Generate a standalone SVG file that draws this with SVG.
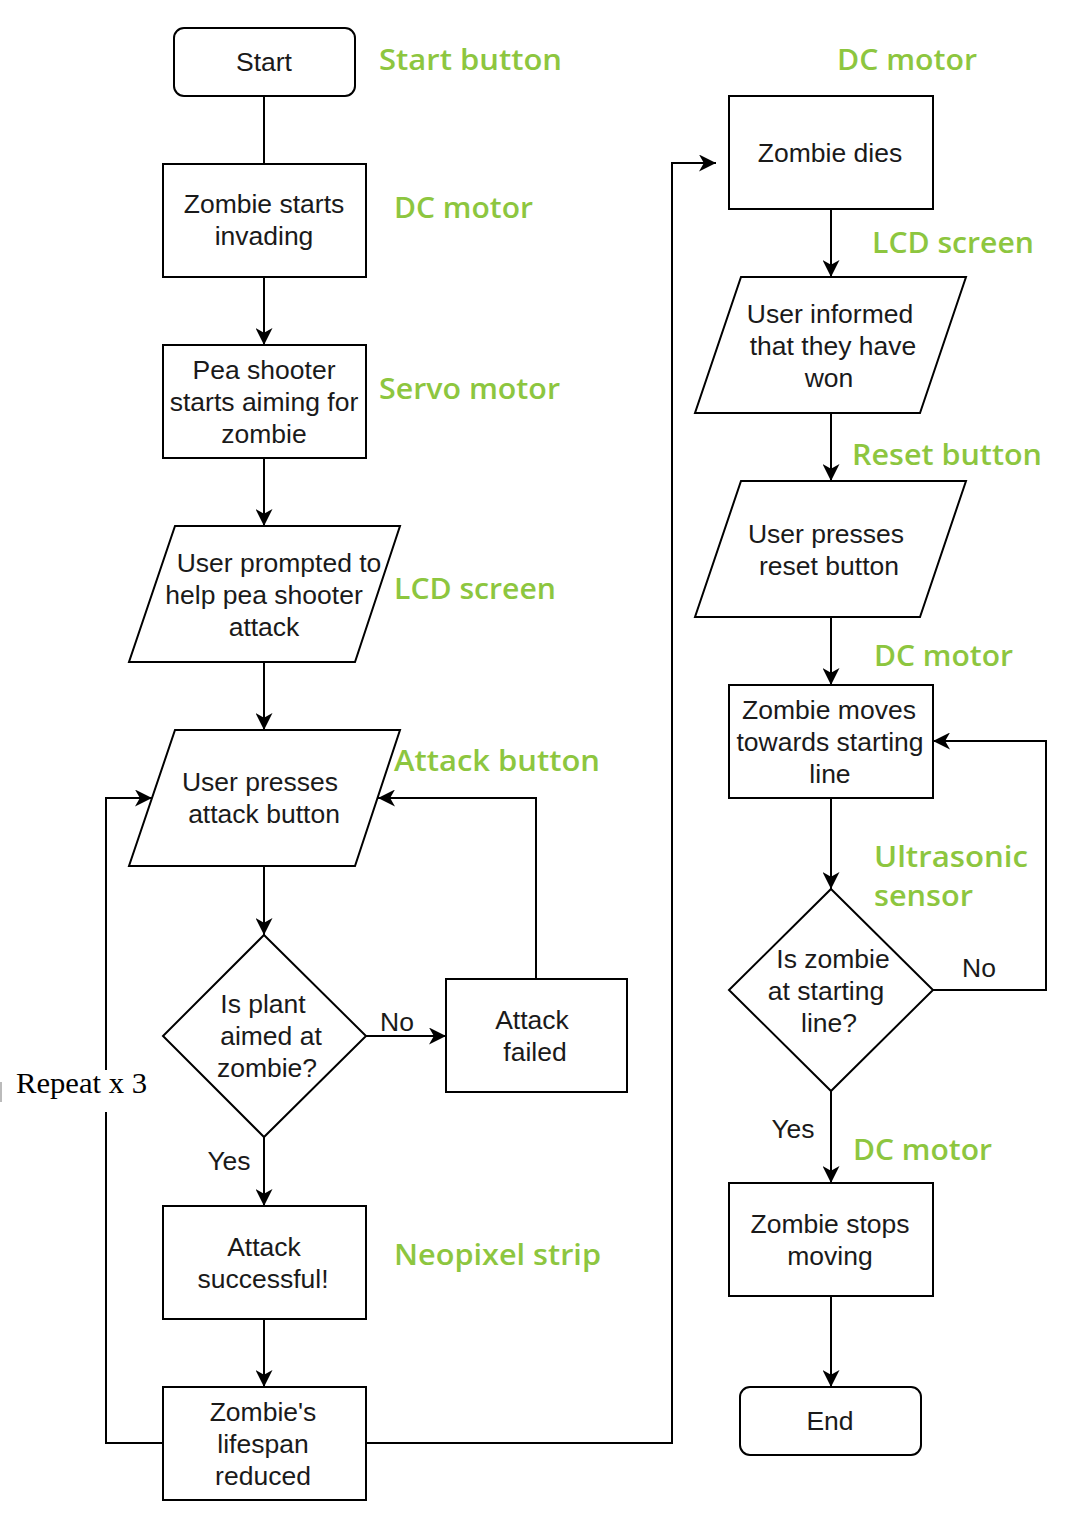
<svg xmlns="http://www.w3.org/2000/svg" width="1070" height="1534" viewBox="0 0 1070 1534">
<style>
.n{fill:#fff;stroke:#000;stroke-width:2}
.t{font-family:"Liberation Sans",Arial,sans-serif;font-size:26.5px;fill:#1a1a1a;text-anchor:middle}
.g{font-family:"Open Sans","Noto Sans",sans-serif;font-size:28px;font-weight:600;fill:#8dc63f}
.c{fill:none;stroke:#000;stroke-width:2}
</style>
<defs>
<marker id="a" markerUnits="userSpaceOnUse" markerWidth="17" markerHeight="17" viewBox="0 0 14 14" refX="14" refY="7" orient="auto">
<path d="M0,0 L14,7 L0,14 L4,7 Z" fill="#000"/>
</marker>
</defs>
<rect width="1070" height="1534" fill="#fff"/>
<g id="connectors">
<path class="c" d="M264,96 V164"/>
<path class="c" d="M264,277 V345" marker-end="url(#a)"/>
<path class="c" d="M264,458 V526" marker-end="url(#a)"/>
<path class="c" d="M264,662 V730" marker-end="url(#a)"/>
<path class="c" d="M264,866 V935" marker-end="url(#a)"/>
<path class="c" d="M366,1036 H446" marker-end="url(#a)"/>
<path class="c" d="M536,979 V798 H378" marker-end="url(#a)"/>
<path class="c" d="M264,1137 V1206" marker-end="url(#a)"/>
<path class="c" d="M264,1319 V1387" marker-end="url(#a)"/>
<path class="c" d="M163,1443 H106 V798 H152" marker-end="url(#a)"/>
<path class="c" d="M366,1443 H672 V163 H716" marker-end="url(#a)"/>
<path class="c" d="M831,209 V277" marker-end="url(#a)"/>
<path class="c" d="M831,413 V481" marker-end="url(#a)"/>
<path class="c" d="M831,617 V685" marker-end="url(#a)"/>
<path class="c" d="M831,798 V889" marker-end="url(#a)"/>
<path class="c" d="M933,990 H1046 V741 H933" marker-end="url(#a)"/>
<path class="c" d="M831,1091 V1183" marker-end="url(#a)"/>
<path class="c" d="M831,1296 V1387" marker-end="url(#a)"/>
</g>
<g id="start"><rect class="n" x="174" y="28" width="181" height="68" rx="10"/><text class="t" x="264" y="71">Start</text></g>
<g id="invading"><rect class="n" x="163" y="164" width="203" height="113"/><text class="t" x="264" y="213">Zombie starts</text><text class="t" x="264" y="245">invading</text></g>
<g id="aiming"><rect class="n" x="163" y="345" width="203" height="113"/><text class="t" x="264" y="379">Pea shooter</text><text class="t" x="264" y="411">starts aiming for</text><text class="t" x="264" y="443">zombie</text></g>
<g id="prompted"><polygon class="n" points="175,526 400,526 355,662 129,662"/><text class="t" x="279" y="572">User prompted to</text><text class="t" x="264" y="604">help pea shooter</text><text class="t" x="264" y="636">attack</text></g>
<g id="presses-attack"><polygon class="n" points="175,730 400,730 355,866 129,866"/><text class="t" x="260" y="791">User presses</text><text class="t" x="264" y="823">attack button</text></g>
<g id="aimed"><polygon class="n" points="264,935 366,1036 264,1137 163,1036"/><text class="t" x="263" y="1013">Is plant</text><text class="t" x="271" y="1045">aimed at</text><text class="t" x="267" y="1077">zombie?</text></g>
<g id="failed"><rect class="n" x="446" y="979" width="181" height="113"/><text class="t" x="532" y="1029">Attack</text><text class="t" x="535" y="1061">failed</text></g>
<g id="successful"><rect class="n" x="163" y="1206" width="203" height="113"/><text class="t" x="264" y="1256">Attack</text><text class="t" x="263" y="1288">successful!</text></g>
<g id="lifespan"><rect class="n" x="163" y="1387" width="203" height="113"/><text class="t" x="263" y="1421">Zombie's</text><text class="t" x="263" y="1453">lifespan</text><text class="t" x="263" y="1485">reduced</text></g>
<g id="dies"><rect class="n" x="729" y="96" width="204" height="113"/><text class="t" x="830" y="162">Zombie dies</text></g>
<g id="informed"><polygon class="n" points="741,277 966,277 920,413 695,413"/><text class="t" x="830" y="323">User informed</text><text class="t" x="833" y="355">that they have</text><text class="t" x="829" y="387">won</text></g>
<g id="reset"><polygon class="n" points="741,481 966,481 920,617 695,617"/><text class="t" x="826" y="543">User presses</text><text class="t" x="829" y="575">reset button</text></g>
<g id="moves"><rect class="n" x="729" y="685" width="204" height="113"/><text class="t" x="829" y="719">Zombie moves</text><text class="t" x="830" y="751">towards starting</text><text class="t" x="830" y="783">line</text></g>
<g id="atline"><polygon class="n" points="831,889 933,990 831,1091 729,990"/><text class="t" x="833" y="968">Is zombie</text><text class="t" x="826" y="1000">at starting</text><text class="t" x="829" y="1032">line?</text></g>
<g id="stops"><rect class="n" x="729" y="1183" width="204" height="113"/><text class="t" x="830" y="1233">Zombie stops</text><text class="t" x="830" y="1265">moving</text></g>
<g id="end"><rect class="n" x="740" y="1387" width="181" height="68" rx="10"/><text class="t" x="830" y="1430">End</text></g>
<g id="edge-labels">
<text class="t" x="397" y="1031">No</text>
<text class="t" x="229" y="1170">Yes</text>
<text class="t" x="979" y="977">No</text>
<text class="t" x="793" y="1138">Yes</text>
</g>
<g id="repeat">
<rect x="12" y="1070" width="138" height="42" fill="#fff"/>
<line x1="1" y1="1082" x2="1" y2="1102" stroke="#bbb" stroke-width="2"/>
<text x="16" y="1093" font-family="'Liberation Serif','Times New Roman',serif" font-size="30" fill="#000" textLength="131" lengthAdjust="spacingAndGlyphs">Repeat x 3</text>
</g>
<g id="hardware-labels">
<text class="g" x="379" y="70" textLength="183" lengthAdjust="spacingAndGlyphs">Start button</text>
<text class="g" x="837" y="70" textLength="140" lengthAdjust="spacingAndGlyphs">DC motor</text>
<text class="g" x="394" y="218" textLength="139" lengthAdjust="spacingAndGlyphs">DC motor</text>
<text class="g" x="872" y="253" textLength="162" lengthAdjust="spacingAndGlyphs">LCD screen</text>
<text class="g" x="379" y="399" textLength="181" lengthAdjust="spacingAndGlyphs">Servo motor</text>
<text class="g" x="852" y="465" textLength="190" lengthAdjust="spacingAndGlyphs">Reset button</text>
<text class="g" x="394" y="599" textLength="162" lengthAdjust="spacingAndGlyphs">LCD screen</text>
<text class="g" x="874" y="666" textLength="139" lengthAdjust="spacingAndGlyphs">DC motor</text>
<text class="g" x="394" y="771" textLength="206" lengthAdjust="spacingAndGlyphs">Attack button</text>
<text class="g" x="874" y="867" textLength="154" lengthAdjust="spacingAndGlyphs">Ultrasonic</text>
<text class="g" x="874" y="906" textLength="99" lengthAdjust="spacingAndGlyphs">sensor</text>
<text class="g" x="853" y="1160" textLength="139" lengthAdjust="spacingAndGlyphs">DC motor</text>
<text class="g" x="394" y="1265" textLength="207" lengthAdjust="spacingAndGlyphs">Neopixel strip</text>
</g>
</svg>
